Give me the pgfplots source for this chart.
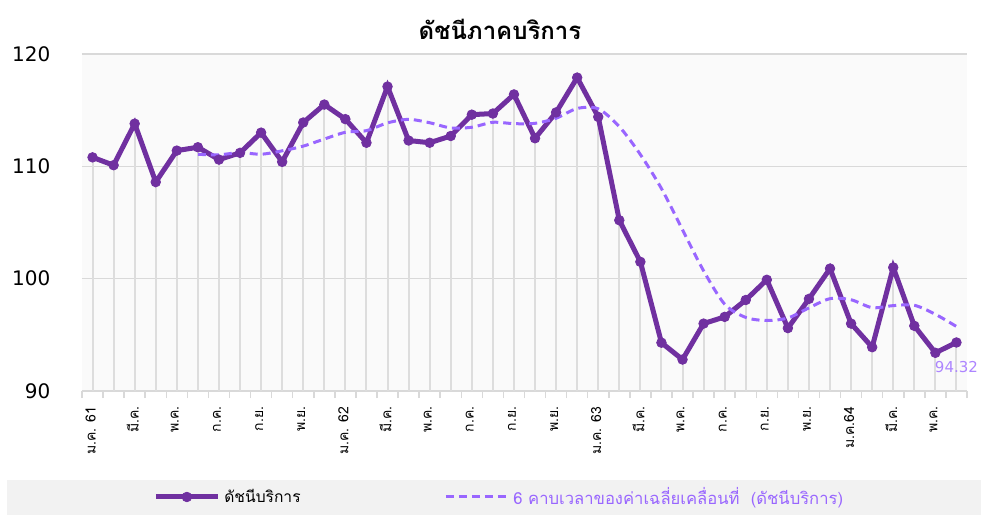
\documentclass[border=0pt]{standalone}
\usepackage{fontspec}
\usepackage{pgfplots}
\usepackage{pgfplotstable}
\pgfplotsset{compat=1.18}
\setmainfont[Script=Thai]{Loma}
\newfontfamily\numfont{DejaVu Sans}

\definecolor{mainpurple}{HTML}{7030A0}
\definecolor{mapurple}{HTML}{9966FF}
\definecolor{gridgray}{HTML}{D9D9D9}
\definecolor{dropgray}{HTML}{DDDDDD}
\definecolor{bandgray}{HTML}{F2F2F2}

% services index, Jan 2018 (0) ... Jun 2021 (41); d = height above the 90 baseline
\pgfplotstableread{
x y d
0 110.8 20.8
1 110.1 20.1
2 113.8 23.8
3 108.6 18.6
4 111.4 21.4
5 111.7 21.7
6 110.6 20.6
7 111.2 21.2
8 113.0 23.0
9 110.4 20.4
10 113.9 23.9
11 115.5 25.5
12 114.2 24.2
13 112.1 22.1
14 117.1 27.1
15 112.3 22.3
16 112.1 22.1
17 112.7 22.7
18 114.6 24.6
19 114.7 24.7
20 116.4 26.4
21 112.5 22.5
22 114.8 24.8
23 117.9 27.9
24 114.4 24.4
25 105.2 15.2
26 101.5 11.5
27 94.3 4.3
28 92.8 2.8
29 96.0 6.0
30 96.6 6.6
31 98.1 8.1
32 99.9 9.9
33 95.6 5.6
34 98.2 8.2
35 100.9 10.9
36 96.0 6.0
37 93.9 3.9
38 101.0 11.0
39 95.8 5.8
40 93.4 3.4
41 94.32 4.32
}\indexdata

% 6-period moving average
\pgfplotstableread{
x y
5 111.07
6 111.03
7 111.22
8 111.08
9 111.38
10 111.80
11 112.43
12 113.03
13 113.18
14 113.87
15 114.18
16 113.88
17 113.42
18 113.48
19 113.92
20 113.80
21 113.83
22 114.28
23 115.15
24 115.12
25 113.53
26 111.05
27 108.02
28 104.35
29 100.70
30 97.73
31 96.55
32 96.28
33 96.50
34 97.40
35 98.22
36 98.12
37 97.42
38 97.60
39 97.63
40 96.83
41 95.74
}\madata

\begin{document}
\begin{tikzpicture}
\path[use as bounding box] (0,0) rectangle (490.5pt,257.5pt);
\fill[bandgray] (3.5pt,0) rectangle (490.5pt,17.5pt);
\node[font=\bfseries\fontsize{12}{14}\selectfont] at (250pt,243pt) {ดัชนีภาคบริการ};

\begin{axis}[
    at={(41pt,62pt)}, anchor=south west,
    scale only axis,
    width=442.5pt, height=168.5pt,
    xmin=-0.5, xmax=41.5,
    ymin=90, ymax=120,
    ytick={90,100,110,120},
    xtick={0,2,...,40},
    xticklabels={{ม.ค. 61},{มี.ค.},{พ.ค.},{ก.ค.},{ก.ย.},{พ.ย.},{ม.ค. 62},{มี.ค.},{พ.ค.},{ก.ค.},{ก.ย.},{พ.ย.},{ม.ค. 63},{มี.ค.},{พ.ค.},{ก.ค.},{ก.ย.},{พ.ย.},{ม.ค.64},{มี.ค.},{พ.ค.}},
    minor xtick={-0.5,0.5,...,41.5},
    major x tick style={draw=none},
    minor x tick style={gridgray, line width=0.75pt},
    minor tick length=3.5pt,
    tick align=outside,
    ytick style={draw=none},
    ymajorgrids,
    major grid style={gridgray, line width=0.75pt},
    axis x line*=bottom,
    axis y line*=left,
    x axis line style={gridgray, line width=0.75pt, -},
    y axis line style={draw=none},
    axis background/.style={fill=black!2},
    /pgf/number format/assume math mode=true,
    yticklabel style={font=\numfont\fontsize{10}{12}\selectfont, xshift=-8pt},
    xticklabel style={font=\fontsize{7}{8}\selectfont, rotate=90, anchor=east, yshift=1pt},
    legend style={at={(0.0802,-0.3145)}, anchor=west, draw=none, fill=none,
        inner sep=0pt, font=\fontsize{7.8}{9}\selectfont,
        /tikz/every even column/.append style={column sep=2pt}},
    legend columns=2,
    legend cell align=left,
    legend image code/.code={\draw[mark repeat=2, mark phase=2, #1] plot coordinates {(0pt,0pt) (15.5pt,0pt) (31pt,0pt)};},
]
% drop lines
\addplot[draw=none, mark=none, forget plot,
    error bars/.cd, y dir=minus, y explicit, error mark=none,
    error bar style={draw=dropgray, line width=1pt}]
    table[x=x, y=y, y error=d] {\indexdata};
\addplot[mainpurple, line width=2.5pt, mark=*, mark size=2.4pt,
    mark options={solid, fill=mainpurple, draw=mainpurple, line width=0.4pt}]
    table[x=x, y=y] {\indexdata};
\addlegendentry{\makebox[106pt][l]{ดัชนีบริการ}}
\addplot[mapurple, line width=1.5pt, dash pattern=on 4pt off 2.5pt, smooth, tension=0.5]
    table[x=x, y=y] {\madata};
\addlegendentry{\fontsize{8.3}{9}\selectfont\textcolor{mapurple}{6 คาบเวลาของค่าเฉลี่ยเคลื่อนที่ \ (ดัชนีบริการ)}}
\addplot[draw=none, mark=none, forget plot, nodes near coords,
    nodes near coords style={font=\numfont\fontsize{7.5}{8}\selectfont, text=mapurple!80, anchor=north, yshift=-9pt, inner sep=0pt},
    /pgf/number format/.cd, fixed, precision=2]
    coordinates {(41,94.32)};
\end{axis}
\end{tikzpicture}
\end{document}
